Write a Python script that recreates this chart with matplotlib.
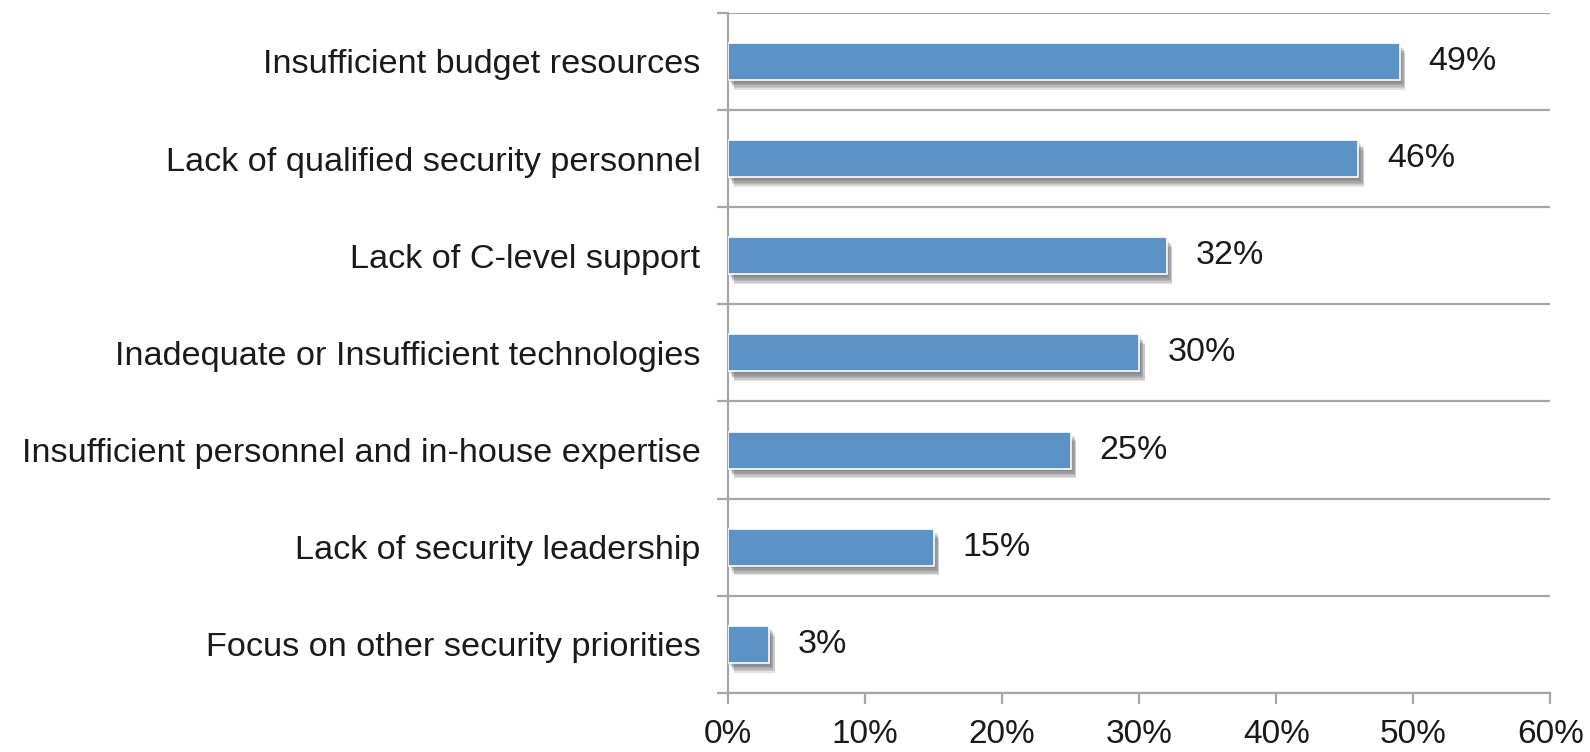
import matplotlib.pyplot as plt
import matplotlib.patheffects as pe
from matplotlib.ticker import FixedLocator

plt.rcParams["font.family"] = ["Liberation Sans", "DejaVu Sans"]

categories = [
    "Insufficient budget resources",
    "Lack of qualified security personnel",
    "Lack of C-level support",
    "Inadequate or Insufficient technologies",
    "Insufficient personnel and in-house expertise",
    "Lack of security leadership",
    "Focus on other security priorities",
]
values = [49, 46, 32, 30, 25, 15, 3]
xticks = [0, 10, 20, 30, 40, 50, 60]

bar_color = "#5b93c7"
line_color = "#a6a6a6"
text_color = "#1a1a1a"

fig = plt.figure(figsize=(15.9, 7.52), dpi=100)
ax = fig.add_axes([0.458, 0.0785, 0.517, 0.9045])

ypos = list(range(len(categories)))
bars = ax.barh(ypos, values, height=0.38, color=bar_color,
               edgecolor="white", linewidth=1.2, zorder=3)

# soft drop shadow: a few faint offset copies under each bar
shadow = [
    pe.SimplePatchShadow(offset=(dx, -dy), shadow_rgbFace="#505050", alpha=0.16)
    for dx, dy in [(1, 2), (2, 3), (3, 4), (3, 5), (4, 6), (4, 7)]
]
for b in bars:
    b.set_path_effects(shadow + [pe.Normal()])

for y, v in zip(ypos, values):
    ax.text(v + 2.1, y, f"{v}%", va="center", ha="left",
            fontsize=24.5, color=text_color)

ax.set_xlim(0, 60)
ax.set_ylim(len(categories) - 0.5, -0.5)

ax.set_xticks(xticks)
ax.set_xticklabels([f"{t}%" for t in xticks], fontsize=24, color=text_color)
ax.set_yticks(ypos)
ax.set_yticklabels(categories, fontsize=24.7, color=text_color)

# boundaries between categories carry the tick marks and gridlines
bounds = [i - 0.5 for i in range(len(categories) + 1)]
ax.yaxis.set_minor_locator(FixedLocator(bounds))
ax.tick_params(axis="y", which="major", length=0, pad=20)
ax.tick_params(axis="y", which="minor", length=8, width=1.6, color=line_color)
ax.tick_params(axis="x", which="major", length=8, width=1.6, color=line_color, pad=11)
ax.grid(axis="y", which="minor", color=line_color, linewidth=1.6, zorder=0)

for side in ("top", "right"):
    ax.spines[side].set_visible(False)
for side in ("left", "bottom"):
    ax.spines[side].set_color(line_color)
    ax.spines[side].set_linewidth(1.6)

fig.savefig("out.png", dpi=100)
